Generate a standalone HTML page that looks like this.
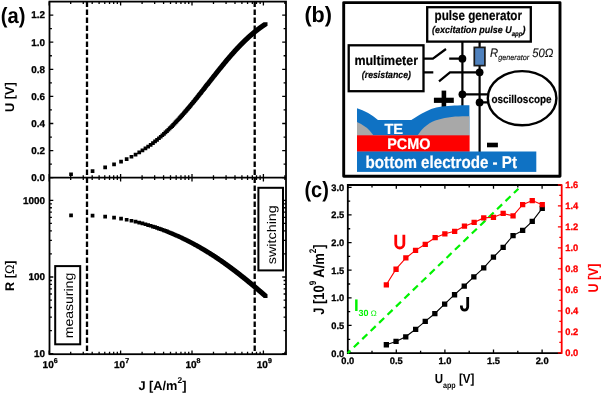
<!DOCTYPE html>
<html><head><meta charset="utf-8"><title>figure</title>
<style>
html,body{margin:0;padding:0;background:#fff;}
body{width:602px;height:393px;overflow:hidden;font-family:"Liberation Sans", sans-serif;}
svg{display:block;will-change:transform;}
svg text{text-rendering:geometricPrecision;}
</style></head>
<body>
<svg width="602" height="393" viewBox="0 0 602 393">
<rect width="602" height="393" fill="#fff"/>
<g stroke="#000" stroke-width="1.8" fill="none" shape-rendering="auto">
<rect x="49.5" y="1.6" width="236.5" height="352.59999999999997"/>
<line x1="49.5" y1="177.7" x2="286.0" y2="177.7"/>
<path d="M49.5 177.70h3.8M286.0 177.70h-3.8M49.5 164.15h2.4M286.0 164.15h-2.4M49.5 150.60h3.8M286.0 150.60h-3.8M49.5 137.05h2.4M286.0 137.05h-2.4M49.5 123.50h3.8M286.0 123.50h-3.8M49.5 109.95h2.4M286.0 109.95h-2.4M49.5 96.40h3.8M286.0 96.40h-3.8M49.5 82.85h2.4M286.0 82.85h-2.4M49.5 69.30h3.8M286.0 69.30h-3.8M49.5 55.75h2.4M286.0 55.75h-2.4M49.5 42.20h3.8M286.0 42.20h-3.8M49.5 28.65h2.4M286.0 28.65h-2.4M49.5 15.10h3.8M286.0 15.10h-3.8M49.20 1.6v3.8M49.20 173.89999999999998v7.6M49.20 354.2v-3.8M70.69 1.6v2.4M70.69 175.29999999999998v4.8M70.69 354.2v-2.4M83.27 1.6v2.4M83.27 175.29999999999998v4.8M83.27 354.2v-2.4M92.19 1.6v2.4M92.19 175.29999999999998v4.8M92.19 354.2v-2.4M99.11 1.6v2.4M99.11 175.29999999999998v4.8M99.11 354.2v-2.4M104.76 1.6v2.4M104.76 175.29999999999998v4.8M104.76 354.2v-2.4M109.54 1.6v2.4M109.54 175.29999999999998v4.8M109.54 354.2v-2.4M113.68 1.6v2.4M113.68 175.29999999999998v4.8M113.68 354.2v-2.4M117.33 1.6v2.4M117.33 175.29999999999998v4.8M117.33 354.2v-2.4M120.60 1.6v3.8M120.60 173.89999999999998v7.6M120.60 354.2v-3.8M142.09 1.6v2.4M142.09 175.29999999999998v4.8M142.09 354.2v-2.4M154.67 1.6v2.4M154.67 175.29999999999998v4.8M154.67 354.2v-2.4M163.59 1.6v2.4M163.59 175.29999999999998v4.8M163.59 354.2v-2.4M170.51 1.6v2.4M170.51 175.29999999999998v4.8M170.51 354.2v-2.4M176.16 1.6v2.4M176.16 175.29999999999998v4.8M176.16 354.2v-2.4M180.94 1.6v2.4M180.94 175.29999999999998v4.8M180.94 354.2v-2.4M185.08 1.6v2.4M185.08 175.29999999999998v4.8M185.08 354.2v-2.4M188.73 1.6v2.4M188.73 175.29999999999998v4.8M188.73 354.2v-2.4M192.00 1.6v3.8M192.00 173.89999999999998v7.6M192.00 354.2v-3.8M213.49 1.6v2.4M213.49 175.29999999999998v4.8M213.49 354.2v-2.4M226.07 1.6v2.4M226.07 175.29999999999998v4.8M226.07 354.2v-2.4M234.99 1.6v2.4M234.99 175.29999999999998v4.8M234.99 354.2v-2.4M241.91 1.6v2.4M241.91 175.29999999999998v4.8M241.91 354.2v-2.4M247.56 1.6v2.4M247.56 175.29999999999998v4.8M247.56 354.2v-2.4M252.34 1.6v2.4M252.34 175.29999999999998v4.8M252.34 354.2v-2.4M256.48 1.6v2.4M256.48 175.29999999999998v4.8M256.48 354.2v-2.4M260.13 1.6v2.4M260.13 175.29999999999998v4.8M260.13 354.2v-2.4M263.40 1.6v3.8M263.40 173.89999999999998v7.6M263.40 354.2v-3.8M284.89 1.6v2.4M284.89 175.29999999999998v4.8M284.89 354.2v-2.4M49.5 353.70h3.8M286.0 353.70h-3.8M49.5 330.61h2.4M286.0 330.61h-2.4M49.5 317.10h2.4M286.0 317.10h-2.4M49.5 307.52h2.4M286.0 307.52h-2.4M49.5 300.09h2.4M286.0 300.09h-2.4M49.5 294.02h2.4M286.0 294.02h-2.4M49.5 288.88h2.4M286.0 288.88h-2.4M49.5 284.43h2.4M286.0 284.43h-2.4M49.5 280.51h2.4M286.0 280.51h-2.4M49.5 277.00h3.8M286.0 277.00h-3.8M49.5 253.91h2.4M286.0 253.91h-2.4M49.5 240.40h2.4M286.0 240.40h-2.4M49.5 230.82h2.4M286.0 230.82h-2.4M49.5 223.39h2.4M286.0 223.39h-2.4M49.5 217.32h2.4M286.0 217.32h-2.4M49.5 212.18h2.4M286.0 212.18h-2.4M49.5 207.73h2.4M286.0 207.73h-2.4M49.5 203.81h2.4M286.0 203.81h-2.4M49.5 200.30h3.8M286.0 200.30h-3.8" stroke-width="1.3"/>
</g>
<line x1="87.0" y1="1.6" x2="87.0" y2="354.2" stroke="#000" stroke-width="2.3" stroke-dasharray="5.4 2.6"/>
<line x1="254.7" y1="1.6" x2="254.7" y2="354.2" stroke="#000" stroke-width="2.3" stroke-dasharray="5.4 2.6"/>
<path d="M69.2 172.4h3.7v3.7h-3.7zM69.2 213.6h3.7v3.7h-3.7zM90.7 169.2h3.7v3.7h-3.7zM90.7 213.7h3.7v3.7h-3.7zM103.3 165.6h3.7v3.7h-3.7zM103.3 214.7h3.7v3.7h-3.7zM112.2 162.5h3.7v3.7h-3.7zM112.2 215.8h3.7v3.7h-3.7zM119.2 159.8h3.7v3.7h-3.7zM119.2 216.8h3.7v3.7h-3.7zM124.8 157.2h3.7v3.7h-3.7zM124.8 217.9h3.7v3.7h-3.7zM129.6 154.9h3.7v3.7h-3.7zM129.6 218.9h3.7v3.7h-3.7zM133.7 152.7h3.7v3.7h-3.7zM133.7 219.8h3.7v3.7h-3.7zM137.4 150.6h3.7v3.7h-3.7zM137.4 220.7h3.7v3.7h-3.7zM140.6 148.5h3.7v3.7h-3.7zM140.6 221.6h3.7v3.7h-3.7zM143.6 146.6h3.7v3.7h-3.7zM143.6 222.4h3.7v3.7h-3.7zM146.3 144.8h3.7v3.7h-3.7zM146.3 223.2h3.7v3.7h-3.7zM148.8 143.0h3.7v3.7h-3.7zM148.8 223.9h3.7v3.7h-3.7zM151.1 141.2h3.7v3.7h-3.7zM151.1 224.7h3.7v3.7h-3.7zM153.2 139.6h3.7v3.7h-3.7zM153.2 225.3h3.7v3.7h-3.7zM155.2 138.0h3.7v3.7h-3.7zM155.2 226.0h3.7v3.7h-3.7zM157.1 136.4h3.7v3.7h-3.7zM157.1 226.7h3.7v3.7h-3.7zM158.9 134.9h3.7v3.7h-3.7zM158.9 227.3h3.7v3.7h-3.7zM160.5 133.4h3.7v3.7h-3.7zM160.5 227.9h3.7v3.7h-3.7zM162.1 132.0h3.7v3.7h-3.7zM162.1 228.5h3.7v3.7h-3.7zM163.6 130.6h3.7v3.7h-3.7zM163.6 229.1h3.7v3.7h-3.7zM165.1 129.2h3.7v3.7h-3.7zM165.1 229.6h3.7v3.7h-3.7zM166.5 127.9h3.7v3.7h-3.7zM166.5 230.2h3.7v3.7h-3.7zM167.8 126.6h3.7v3.7h-3.7zM167.8 230.7h3.7v3.7h-3.7zM169.1 125.4h3.7v3.7h-3.7zM169.1 231.2h3.7v3.7h-3.7zM170.3 124.2h3.7v3.7h-3.7zM170.3 231.7h3.7v3.7h-3.7zM171.4 123.0h3.7v3.7h-3.7zM171.4 232.2h3.7v3.7h-3.7zM172.6 121.8h3.7v3.7h-3.7zM172.6 232.7h3.7v3.7h-3.7zM173.7 120.6h3.7v3.7h-3.7zM173.7 233.2h3.7v3.7h-3.7zM174.7 119.5h3.7v3.7h-3.7zM174.7 233.7h3.7v3.7h-3.7zM175.7 118.4h3.7v3.7h-3.7zM175.7 234.1h3.7v3.7h-3.7zM176.7 117.4h3.7v3.7h-3.7zM176.7 234.6h3.7v3.7h-3.7zM177.7 116.3h3.7v3.7h-3.7zM177.7 235.0h3.7v3.7h-3.7zM178.6 115.3h3.7v3.7h-3.7zM178.6 235.4h3.7v3.7h-3.7zM179.5 114.3h3.7v3.7h-3.7zM179.5 235.8h3.7v3.7h-3.7zM180.4 113.3h3.7v3.7h-3.7zM180.4 236.3h3.7v3.7h-3.7zM181.2 112.4h3.7v3.7h-3.7zM181.2 236.7h3.7v3.7h-3.7zM182.0 111.4h3.7v3.7h-3.7zM182.0 237.1h3.7v3.7h-3.7zM182.8 110.5h3.7v3.7h-3.7zM182.8 237.5h3.7v3.7h-3.7zM183.6 109.6h3.7v3.7h-3.7zM183.6 237.8h3.7v3.7h-3.7zM184.4 108.7h3.7v3.7h-3.7zM184.4 238.2h3.7v3.7h-3.7zM185.1 107.8h3.7v3.7h-3.7zM185.1 238.6h3.7v3.7h-3.7zM185.9 107.0h3.7v3.7h-3.7zM185.9 239.0h3.7v3.7h-3.7zM186.6 106.1h3.7v3.7h-3.7zM186.6 239.3h3.7v3.7h-3.7zM187.3 105.3h3.7v3.7h-3.7zM187.3 239.7h3.7v3.7h-3.7zM188.0 104.5h3.7v3.7h-3.7zM188.0 240.0h3.7v3.7h-3.7zM188.6 103.7h3.7v3.7h-3.7zM188.6 240.4h3.7v3.7h-3.7zM189.3 102.9h3.7v3.7h-3.7zM189.3 240.7h3.7v3.7h-3.7zM189.9 102.1h3.7v3.7h-3.7zM189.9 241.1h3.7v3.7h-3.7zM190.6 101.4h3.7v3.7h-3.7zM190.6 241.4h3.7v3.7h-3.7zM191.2 100.6h3.7v3.7h-3.7zM191.2 241.7h3.7v3.7h-3.7zM191.8 99.9h3.7v3.7h-3.7zM191.8 242.0h3.7v3.7h-3.7zM192.4 99.2h3.7v3.7h-3.7zM192.4 242.4h3.7v3.7h-3.7zM192.9 98.4h3.7v3.7h-3.7zM192.9 242.7h3.7v3.7h-3.7zM193.5 97.7h3.7v3.7h-3.7zM193.5 243.0h3.7v3.7h-3.7zM194.1 97.1h3.7v3.7h-3.7zM194.1 243.3h3.7v3.7h-3.7zM194.6 96.4h3.7v3.7h-3.7zM194.6 243.6h3.7v3.7h-3.7zM195.2 95.7h3.7v3.7h-3.7zM195.2 243.9h3.7v3.7h-3.7zM195.7 95.0h3.7v3.7h-3.7zM195.7 244.2h3.7v3.7h-3.7zM196.2 94.4h3.7v3.7h-3.7zM196.2 244.5h3.7v3.7h-3.7zM196.7 93.8h3.7v3.7h-3.7zM196.7 244.8h3.7v3.7h-3.7zM197.2 93.1h3.7v3.7h-3.7zM197.2 245.1h3.7v3.7h-3.7zM197.7 92.5h3.7v3.7h-3.7zM197.7 245.4h3.7v3.7h-3.7zM198.2 91.9h3.7v3.7h-3.7zM198.2 245.6h3.7v3.7h-3.7zM198.7 91.3h3.7v3.7h-3.7zM198.7 245.9h3.7v3.7h-3.7zM199.2 90.7h3.7v3.7h-3.7zM199.2 246.2h3.7v3.7h-3.7zM199.6 90.1h3.7v3.7h-3.7zM199.6 246.5h3.7v3.7h-3.7zM200.1 89.5h3.7v3.7h-3.7zM200.1 246.7h3.7v3.7h-3.7zM200.5 88.9h3.7v3.7h-3.7zM200.5 247.0h3.7v3.7h-3.7zM201.0 88.4h3.7v3.7h-3.7zM201.0 247.3h3.7v3.7h-3.7zM201.4 87.8h3.7v3.7h-3.7zM201.4 247.5h3.7v3.7h-3.7zM201.9 87.3h3.7v3.7h-3.7zM201.9 247.8h3.7v3.7h-3.7zM202.3 86.7h3.7v3.7h-3.7zM202.3 248.0h3.7v3.7h-3.7zM202.7 86.2h3.7v3.7h-3.7zM202.7 248.3h3.7v3.7h-3.7zM203.1 85.7h3.7v3.7h-3.7zM203.1 248.5h3.7v3.7h-3.7zM203.5 85.1h3.7v3.7h-3.7zM203.5 248.8h3.7v3.7h-3.7zM203.9 84.6h3.7v3.7h-3.7zM203.9 249.0h3.7v3.7h-3.7zM204.3 84.1h3.7v3.7h-3.7zM204.3 249.3h3.7v3.7h-3.7zM204.7 83.6h3.7v3.7h-3.7zM204.7 249.5h3.7v3.7h-3.7zM205.1 83.1h3.7v3.7h-3.7zM205.1 249.7h3.7v3.7h-3.7zM205.5 82.6h3.7v3.7h-3.7zM205.5 250.0h3.7v3.7h-3.7zM205.9 82.2h3.7v3.7h-3.7zM205.9 250.2h3.7v3.7h-3.7zM206.3 81.7h3.7v3.7h-3.7zM206.3 250.5h3.7v3.7h-3.7zM206.6 81.2h3.7v3.7h-3.7zM206.6 250.7h3.7v3.7h-3.7zM207.0 80.7h3.7v3.7h-3.7zM207.0 250.9h3.7v3.7h-3.7zM207.4 80.3h3.7v3.7h-3.7zM207.4 251.1h3.7v3.7h-3.7zM207.7 79.8h3.7v3.7h-3.7zM207.7 251.4h3.7v3.7h-3.7zM208.1 79.4h3.7v3.7h-3.7zM208.1 251.6h3.7v3.7h-3.7zM208.4 78.9h3.7v3.7h-3.7zM208.4 251.8h3.7v3.7h-3.7zM208.8 78.5h3.7v3.7h-3.7zM208.8 252.0h3.7v3.7h-3.7zM209.1 78.0h3.7v3.7h-3.7zM209.1 252.2h3.7v3.7h-3.7zM209.5 77.6h3.7v3.7h-3.7zM209.5 252.5h3.7v3.7h-3.7zM209.8 77.2h3.7v3.7h-3.7zM209.8 252.7h3.7v3.7h-3.7zM210.1 76.8h3.7v3.7h-3.7zM210.1 252.9h3.7v3.7h-3.7zM210.5 76.4h3.7v3.7h-3.7zM210.5 253.1h3.7v3.7h-3.7zM210.8 75.9h3.7v3.7h-3.7zM210.8 253.3h3.7v3.7h-3.7zM211.1 75.5h3.7v3.7h-3.7zM211.1 253.5h3.7v3.7h-3.7zM211.4 75.1h3.7v3.7h-3.7zM211.4 253.7h3.7v3.7h-3.7zM211.7 74.7h3.7v3.7h-3.7zM211.7 253.9h3.7v3.7h-3.7zM212.0 74.3h3.7v3.7h-3.7zM212.0 254.1h3.7v3.7h-3.7zM212.4 73.9h3.7v3.7h-3.7zM212.4 254.3h3.7v3.7h-3.7zM212.7 73.6h3.7v3.7h-3.7zM212.7 254.5h3.7v3.7h-3.7zM213.0 73.2h3.7v3.7h-3.7zM213.0 254.7h3.7v3.7h-3.7zM213.3 72.8h3.7v3.7h-3.7zM213.3 254.9h3.7v3.7h-3.7zM213.6 72.4h3.7v3.7h-3.7zM213.6 255.1h3.7v3.7h-3.7zM213.9 72.1h3.7v3.7h-3.7zM213.9 255.3h3.7v3.7h-3.7zM214.1 71.7h3.7v3.7h-3.7zM214.1 255.5h3.7v3.7h-3.7zM214.4 71.3h3.7v3.7h-3.7zM214.4 255.7h3.7v3.7h-3.7zM214.7 71.0h3.7v3.7h-3.7zM214.7 255.9h3.7v3.7h-3.7zM215.0 70.6h3.7v3.7h-3.7zM215.0 256.1h3.7v3.7h-3.7zM215.3 70.3h3.7v3.7h-3.7zM215.3 256.3h3.7v3.7h-3.7zM215.6 69.9h3.7v3.7h-3.7zM215.6 256.5h3.7v3.7h-3.7zM215.8 69.6h3.7v3.7h-3.7zM215.8 256.6h3.7v3.7h-3.7zM216.1 69.2h3.7v3.7h-3.7zM216.1 256.8h3.7v3.7h-3.7zM216.4 68.9h3.7v3.7h-3.7zM216.4 257.0h3.7v3.7h-3.7zM216.6 68.6h3.7v3.7h-3.7zM216.6 257.2h3.7v3.7h-3.7zM216.9 68.2h3.7v3.7h-3.7zM216.9 257.4h3.7v3.7h-3.7zM217.2 67.9h3.7v3.7h-3.7zM217.2 257.6h3.7v3.7h-3.7zM217.4 67.6h3.7v3.7h-3.7zM217.4 257.7h3.7v3.7h-3.7zM217.7 67.3h3.7v3.7h-3.7zM217.7 257.9h3.7v3.7h-3.7zM218.0 66.9h3.7v3.7h-3.7zM218.0 258.1h3.7v3.7h-3.7zM218.2 66.6h3.7v3.7h-3.7zM218.2 258.3h3.7v3.7h-3.7zM218.5 66.3h3.7v3.7h-3.7zM218.5 258.4h3.7v3.7h-3.7zM218.7 66.0h3.7v3.7h-3.7zM218.7 258.6h3.7v3.7h-3.7zM219.0 65.7h3.7v3.7h-3.7zM219.0 258.8h3.7v3.7h-3.7zM219.2 65.4h3.7v3.7h-3.7zM219.2 258.9h3.7v3.7h-3.7zM219.5 65.1h3.7v3.7h-3.7zM219.5 259.1h3.7v3.7h-3.7zM219.7 64.8h3.7v3.7h-3.7zM219.7 259.3h3.7v3.7h-3.7zM219.9 64.5h3.7v3.7h-3.7zM219.9 259.5h3.7v3.7h-3.7zM220.2 64.2h3.7v3.7h-3.7zM220.2 259.6h3.7v3.7h-3.7zM220.4 63.9h3.7v3.7h-3.7zM220.4 259.8h3.7v3.7h-3.7zM220.7 63.6h3.7v3.7h-3.7zM220.7 260.0h3.7v3.7h-3.7zM220.9 63.3h3.7v3.7h-3.7zM220.9 260.1h3.7v3.7h-3.7zM221.1 63.0h3.7v3.7h-3.7zM221.1 260.3h3.7v3.7h-3.7zM221.3 62.8h3.7v3.7h-3.7zM221.3 260.4h3.7v3.7h-3.7zM221.6 62.5h3.7v3.7h-3.7zM221.6 260.6h3.7v3.7h-3.7zM221.8 62.2h3.7v3.7h-3.7zM221.8 260.8h3.7v3.7h-3.7zM222.0 61.9h3.7v3.7h-3.7zM222.0 260.9h3.7v3.7h-3.7zM222.3 61.7h3.7v3.7h-3.7zM222.3 261.1h3.7v3.7h-3.7zM222.5 61.4h3.7v3.7h-3.7zM222.5 261.2h3.7v3.7h-3.7zM222.7 61.1h3.7v3.7h-3.7zM222.7 261.4h3.7v3.7h-3.7zM222.9 60.9h3.7v3.7h-3.7zM222.9 261.5h3.7v3.7h-3.7zM223.1 60.6h3.7v3.7h-3.7zM223.1 261.7h3.7v3.7h-3.7zM223.4 60.3h3.7v3.7h-3.7zM223.4 261.9h3.7v3.7h-3.7zM223.6 60.1h3.7v3.7h-3.7zM223.6 262.0h3.7v3.7h-3.7zM223.8 59.8h3.7v3.7h-3.7zM223.8 262.2h3.7v3.7h-3.7zM224.0 59.6h3.7v3.7h-3.7zM224.0 262.3h3.7v3.7h-3.7zM224.2 59.3h3.7v3.7h-3.7zM224.2 262.5h3.7v3.7h-3.7zM224.4 59.1h3.7v3.7h-3.7zM224.4 262.6h3.7v3.7h-3.7zM224.6 58.8h3.7v3.7h-3.7zM224.6 262.8h3.7v3.7h-3.7zM224.8 58.6h3.7v3.7h-3.7zM224.8 262.9h3.7v3.7h-3.7zM225.0 58.3h3.7v3.7h-3.7zM225.0 263.1h3.7v3.7h-3.7zM225.2 58.1h3.7v3.7h-3.7zM225.2 263.2h3.7v3.7h-3.7zM225.4 57.9h3.7v3.7h-3.7zM225.4 263.4h3.7v3.7h-3.7zM225.6 57.6h3.7v3.7h-3.7zM225.6 263.5h3.7v3.7h-3.7zM225.8 57.4h3.7v3.7h-3.7zM225.8 263.6h3.7v3.7h-3.7zM226.0 57.1h3.7v3.7h-3.7zM226.0 263.8h3.7v3.7h-3.7zM226.2 56.9h3.7v3.7h-3.7zM226.2 263.9h3.7v3.7h-3.7zM226.4 56.7h3.7v3.7h-3.7zM226.4 264.1h3.7v3.7h-3.7zM226.6 56.5h3.7v3.7h-3.7zM226.6 264.2h3.7v3.7h-3.7zM226.8 56.2h3.7v3.7h-3.7zM226.8 264.4h3.7v3.7h-3.7zM227.0 56.0h3.7v3.7h-3.7zM227.0 264.5h3.7v3.7h-3.7zM227.2 55.8h3.7v3.7h-3.7zM227.2 264.6h3.7v3.7h-3.7zM227.4 55.6h3.7v3.7h-3.7zM227.4 264.8h3.7v3.7h-3.7zM227.6 55.3h3.7v3.7h-3.7zM227.6 264.9h3.7v3.7h-3.7zM227.8 55.1h3.7v3.7h-3.7zM227.8 265.1h3.7v3.7h-3.7zM227.9 54.9h3.7v3.7h-3.7zM227.9 265.2h3.7v3.7h-3.7zM228.1 54.7h3.7v3.7h-3.7zM228.1 265.3h3.7v3.7h-3.7zM228.3 54.5h3.7v3.7h-3.7zM228.3 265.5h3.7v3.7h-3.7zM228.5 54.3h3.7v3.7h-3.7zM228.5 265.6h3.7v3.7h-3.7zM228.7 54.1h3.7v3.7h-3.7zM228.7 265.7h3.7v3.7h-3.7zM228.9 53.9h3.7v3.7h-3.7zM228.9 265.9h3.7v3.7h-3.7zM229.0 53.6h3.7v3.7h-3.7zM229.0 266.0h3.7v3.7h-3.7zM229.2 53.4h3.7v3.7h-3.7zM229.2 266.1h3.7v3.7h-3.7zM229.4 53.2h3.7v3.7h-3.7zM229.4 266.3h3.7v3.7h-3.7zM229.6 53.0h3.7v3.7h-3.7zM229.6 266.4h3.7v3.7h-3.7zM229.7 52.8h3.7v3.7h-3.7zM229.7 266.5h3.7v3.7h-3.7zM229.9 52.6h3.7v3.7h-3.7zM229.9 266.7h3.7v3.7h-3.7zM230.1 52.4h3.7v3.7h-3.7zM230.1 266.8h3.7v3.7h-3.7zM230.3 52.2h3.7v3.7h-3.7zM230.3 266.9h3.7v3.7h-3.7zM230.4 52.0h3.7v3.7h-3.7zM230.4 267.0h3.7v3.7h-3.7zM230.6 51.9h3.7v3.7h-3.7zM230.6 267.2h3.7v3.7h-3.7zM230.8 51.7h3.7v3.7h-3.7zM230.8 267.3h3.7v3.7h-3.7zM231.0 51.5h3.7v3.7h-3.7zM231.0 267.4h3.7v3.7h-3.7zM231.1 51.3h3.7v3.7h-3.7zM231.1 267.5h3.7v3.7h-3.7zM231.3 51.1h3.7v3.7h-3.7zM231.3 267.7h3.7v3.7h-3.7zM231.5 50.9h3.7v3.7h-3.7zM231.5 267.8h3.7v3.7h-3.7zM231.6 50.7h3.7v3.7h-3.7zM231.6 267.9h3.7v3.7h-3.7zM231.8 50.5h3.7v3.7h-3.7zM231.8 268.0h3.7v3.7h-3.7zM231.9 50.4h3.7v3.7h-3.7zM231.9 268.2h3.7v3.7h-3.7zM232.1 50.2h3.7v3.7h-3.7zM232.1 268.3h3.7v3.7h-3.7zM232.3 50.0h3.7v3.7h-3.7zM232.3 268.4h3.7v3.7h-3.7zM232.4 49.8h3.7v3.7h-3.7zM232.4 268.5h3.7v3.7h-3.7zM232.6 49.6h3.7v3.7h-3.7zM232.6 268.7h3.7v3.7h-3.7zM232.8 49.5h3.7v3.7h-3.7zM232.8 268.8h3.7v3.7h-3.7zM232.9 49.3h3.7v3.7h-3.7zM232.9 268.9h3.7v3.7h-3.7zM233.1 49.1h3.7v3.7h-3.7zM233.1 269.0h3.7v3.7h-3.7zM233.2 48.9h3.7v3.7h-3.7zM233.2 269.1h3.7v3.7h-3.7zM233.4 48.8h3.7v3.7h-3.7zM233.4 269.3h3.7v3.7h-3.7zM233.5 48.6h3.7v3.7h-3.7zM233.5 269.4h3.7v3.7h-3.7zM233.7 48.4h3.7v3.7h-3.7zM233.7 269.5h3.7v3.7h-3.7zM233.8 48.3h3.7v3.7h-3.7zM233.8 269.6h3.7v3.7h-3.7zM234.0 48.1h3.7v3.7h-3.7zM234.0 269.7h3.7v3.7h-3.7zM234.2 47.9h3.7v3.7h-3.7zM234.2 269.9h3.7v3.7h-3.7zM234.3 47.8h3.7v3.7h-3.7zM234.3 270.0h3.7v3.7h-3.7zM234.5 47.6h3.7v3.7h-3.7zM234.5 270.1h3.7v3.7h-3.7zM234.6 47.4h3.7v3.7h-3.7zM234.6 270.2h3.7v3.7h-3.7zM234.8 47.3h3.7v3.7h-3.7zM234.8 270.3h3.7v3.7h-3.7zM234.9 47.1h3.7v3.7h-3.7zM234.9 270.4h3.7v3.7h-3.7zM235.0 47.0h3.7v3.7h-3.7zM235.0 270.5h3.7v3.7h-3.7zM235.2 46.8h3.7v3.7h-3.7zM235.2 270.7h3.7v3.7h-3.7zM235.3 46.6h3.7v3.7h-3.7zM235.3 270.8h3.7v3.7h-3.7zM235.5 46.5h3.7v3.7h-3.7zM235.5 270.9h3.7v3.7h-3.7zM235.6 46.3h3.7v3.7h-3.7zM235.6 271.0h3.7v3.7h-3.7zM235.8 46.2h3.7v3.7h-3.7zM235.8 271.1h3.7v3.7h-3.7zM235.9 46.0h3.7v3.7h-3.7zM235.9 271.2h3.7v3.7h-3.7zM236.1 45.9h3.7v3.7h-3.7zM236.1 271.3h3.7v3.7h-3.7zM236.2 45.7h3.7v3.7h-3.7zM236.2 271.4h3.7v3.7h-3.7zM236.4 45.6h3.7v3.7h-3.7zM236.4 271.5h3.7v3.7h-3.7zM236.5 45.4h3.7v3.7h-3.7zM236.5 271.7h3.7v3.7h-3.7zM236.6 45.3h3.7v3.7h-3.7zM236.6 271.8h3.7v3.7h-3.7zM236.8 45.1h3.7v3.7h-3.7zM236.8 271.9h3.7v3.7h-3.7zM236.9 45.0h3.7v3.7h-3.7zM236.9 272.0h3.7v3.7h-3.7zM237.1 44.8h3.7v3.7h-3.7zM237.1 272.1h3.7v3.7h-3.7zM237.2 44.7h3.7v3.7h-3.7zM237.2 272.2h3.7v3.7h-3.7zM237.3 44.5h3.7v3.7h-3.7zM237.3 272.3h3.7v3.7h-3.7zM237.5 44.4h3.7v3.7h-3.7zM237.5 272.4h3.7v3.7h-3.7zM237.6 44.2h3.7v3.7h-3.7zM237.6 272.5h3.7v3.7h-3.7zM237.7 44.1h3.7v3.7h-3.7zM237.7 272.6h3.7v3.7h-3.7zM237.9 44.0h3.7v3.7h-3.7zM237.9 272.7h3.7v3.7h-3.7zM238.0 43.8h3.7v3.7h-3.7zM238.0 272.8h3.7v3.7h-3.7zM238.1 43.7h3.7v3.7h-3.7zM238.1 272.9h3.7v3.7h-3.7zM238.3 43.6h3.7v3.7h-3.7zM238.3 273.0h3.7v3.7h-3.7zM238.4 43.4h3.7v3.7h-3.7zM238.4 273.2h3.7v3.7h-3.7zM238.5 43.3h3.7v3.7h-3.7zM238.5 273.3h3.7v3.7h-3.7zM238.7 43.1h3.7v3.7h-3.7zM238.7 273.4h3.7v3.7h-3.7zM238.8 43.0h3.7v3.7h-3.7zM238.8 273.5h3.7v3.7h-3.7zM238.9 42.9h3.7v3.7h-3.7zM238.9 273.6h3.7v3.7h-3.7zM239.1 42.7h3.7v3.7h-3.7zM239.1 273.7h3.7v3.7h-3.7zM239.2 42.6h3.7v3.7h-3.7zM239.2 273.8h3.7v3.7h-3.7zM239.3 42.5h3.7v3.7h-3.7zM239.3 273.9h3.7v3.7h-3.7zM239.4 42.3h3.7v3.7h-3.7zM239.4 274.0h3.7v3.7h-3.7zM239.6 42.2h3.7v3.7h-3.7zM239.6 274.1h3.7v3.7h-3.7zM239.7 42.1h3.7v3.7h-3.7zM239.7 274.2h3.7v3.7h-3.7zM239.8 42.0h3.7v3.7h-3.7zM239.8 274.3h3.7v3.7h-3.7zM240.0 41.8h3.7v3.7h-3.7zM240.0 274.4h3.7v3.7h-3.7zM240.1 41.7h3.7v3.7h-3.7zM240.1 274.5h3.7v3.7h-3.7zM240.2 41.6h3.7v3.7h-3.7zM240.2 274.6h3.7v3.7h-3.7zM240.3 41.5h3.7v3.7h-3.7zM240.3 274.7h3.7v3.7h-3.7zM240.5 41.3h3.7v3.7h-3.7zM240.5 274.8h3.7v3.7h-3.7zM240.6 41.2h3.7v3.7h-3.7zM240.6 274.9h3.7v3.7h-3.7zM240.7 41.1h3.7v3.7h-3.7zM240.7 275.0h3.7v3.7h-3.7zM240.8 41.0h3.7v3.7h-3.7zM240.8 275.1h3.7v3.7h-3.7zM240.9 40.8h3.7v3.7h-3.7zM240.9 275.2h3.7v3.7h-3.7zM241.1 40.7h3.7v3.7h-3.7zM241.1 275.3h3.7v3.7h-3.7zM241.2 40.6h3.7v3.7h-3.7zM241.2 275.4h3.7v3.7h-3.7zM241.3 40.5h3.7v3.7h-3.7zM241.3 275.5h3.7v3.7h-3.7zM241.4 40.4h3.7v3.7h-3.7zM241.4 275.6h3.7v3.7h-3.7zM241.6 40.2h3.7v3.7h-3.7zM241.6 275.6h3.7v3.7h-3.7zM241.7 40.1h3.7v3.7h-3.7zM241.7 275.7h3.7v3.7h-3.7zM241.8 40.0h3.7v3.7h-3.7zM241.8 275.8h3.7v3.7h-3.7zM241.9 39.9h3.7v3.7h-3.7zM241.9 275.9h3.7v3.7h-3.7zM242.0 39.8h3.7v3.7h-3.7zM242.0 276.0h3.7v3.7h-3.7zM242.1 39.7h3.7v3.7h-3.7zM242.1 276.1h3.7v3.7h-3.7zM242.3 39.5h3.7v3.7h-3.7zM242.3 276.2h3.7v3.7h-3.7zM242.4 39.4h3.7v3.7h-3.7zM242.4 276.3h3.7v3.7h-3.7zM242.5 39.3h3.7v3.7h-3.7zM242.5 276.4h3.7v3.7h-3.7zM242.6 39.2h3.7v3.7h-3.7zM242.6 276.5h3.7v3.7h-3.7zM242.7 39.1h3.7v3.7h-3.7zM242.7 276.6h3.7v3.7h-3.7zM242.8 39.0h3.7v3.7h-3.7zM242.8 276.7h3.7v3.7h-3.7zM243.0 38.9h3.7v3.7h-3.7zM243.0 276.8h3.7v3.7h-3.7zM243.1 38.8h3.7v3.7h-3.7zM243.1 276.9h3.7v3.7h-3.7zM243.2 38.6h3.7v3.7h-3.7zM243.2 277.0h3.7v3.7h-3.7zM243.3 38.5h3.7v3.7h-3.7zM243.3 277.0h3.7v3.7h-3.7zM243.4 38.4h3.7v3.7h-3.7zM243.4 277.1h3.7v3.7h-3.7zM243.5 38.3h3.7v3.7h-3.7zM243.5 277.2h3.7v3.7h-3.7zM243.6 38.2h3.7v3.7h-3.7zM243.6 277.3h3.7v3.7h-3.7zM243.7 38.1h3.7v3.7h-3.7zM243.7 277.4h3.7v3.7h-3.7zM243.9 38.0h3.7v3.7h-3.7zM243.9 277.5h3.7v3.7h-3.7zM244.0 37.9h3.7v3.7h-3.7zM244.0 277.6h3.7v3.7h-3.7zM244.1 37.8h3.7v3.7h-3.7zM244.1 277.7h3.7v3.7h-3.7zM244.2 37.7h3.7v3.7h-3.7zM244.2 277.8h3.7v3.7h-3.7zM244.3 37.6h3.7v3.7h-3.7zM244.3 277.9h3.7v3.7h-3.7zM244.4 37.5h3.7v3.7h-3.7zM244.4 277.9h3.7v3.7h-3.7zM244.5 37.4h3.7v3.7h-3.7zM244.5 278.0h3.7v3.7h-3.7zM244.6 37.3h3.7v3.7h-3.7zM244.6 278.1h3.7v3.7h-3.7zM244.7 37.2h3.7v3.7h-3.7zM244.7 278.2h3.7v3.7h-3.7zM244.8 37.1h3.7v3.7h-3.7zM244.8 278.3h3.7v3.7h-3.7zM245.0 37.0h3.7v3.7h-3.7zM245.0 278.4h3.7v3.7h-3.7zM245.1 36.9h3.7v3.7h-3.7zM245.1 278.5h3.7v3.7h-3.7zM245.2 36.8h3.7v3.7h-3.7zM245.2 278.6h3.7v3.7h-3.7zM245.3 36.7h3.7v3.7h-3.7zM245.3 278.6h3.7v3.7h-3.7zM245.4 36.6h3.7v3.7h-3.7zM245.4 278.7h3.7v3.7h-3.7zM245.5 36.5h3.7v3.7h-3.7zM245.5 278.8h3.7v3.7h-3.7zM245.6 36.4h3.7v3.7h-3.7zM245.6 278.9h3.7v3.7h-3.7zM245.7 36.3h3.7v3.7h-3.7zM245.7 279.0h3.7v3.7h-3.7zM245.8 36.2h3.7v3.7h-3.7zM245.8 279.1h3.7v3.7h-3.7zM245.9 36.1h3.7v3.7h-3.7zM245.9 279.2h3.7v3.7h-3.7zM246.0 36.0h3.7v3.7h-3.7zM246.0 279.2h3.7v3.7h-3.7zM246.1 35.9h3.7v3.7h-3.7zM246.1 279.3h3.7v3.7h-3.7zM246.2 35.8h3.7v3.7h-3.7zM246.2 279.4h3.7v3.7h-3.7zM246.3 35.7h3.7v3.7h-3.7zM246.3 279.5h3.7v3.7h-3.7zM246.4 35.6h3.7v3.7h-3.7zM246.4 279.6h3.7v3.7h-3.7zM246.5 35.5h3.7v3.7h-3.7zM246.5 279.7h3.7v3.7h-3.7zM246.6 35.4h3.7v3.7h-3.7zM246.6 279.7h3.7v3.7h-3.7zM246.7 35.3h3.7v3.7h-3.7zM246.7 279.8h3.7v3.7h-3.7zM246.8 35.3h3.7v3.7h-3.7zM246.8 279.9h3.7v3.7h-3.7zM246.9 35.2h3.7v3.7h-3.7zM246.9 280.0h3.7v3.7h-3.7zM247.0 35.1h3.7v3.7h-3.7zM247.0 280.1h3.7v3.7h-3.7zM247.1 35.0h3.7v3.7h-3.7zM247.1 280.2h3.7v3.7h-3.7zM247.2 34.9h3.7v3.7h-3.7zM247.2 280.2h3.7v3.7h-3.7zM247.3 34.8h3.7v3.7h-3.7zM247.3 280.3h3.7v3.7h-3.7zM247.4 34.7h3.7v3.7h-3.7zM247.4 280.4h3.7v3.7h-3.7zM247.5 34.6h3.7v3.7h-3.7zM247.5 280.5h3.7v3.7h-3.7zM247.6 34.5h3.7v3.7h-3.7zM247.6 280.6h3.7v3.7h-3.7zM247.7 34.4h3.7v3.7h-3.7zM247.7 280.7h3.7v3.7h-3.7zM247.8 34.4h3.7v3.7h-3.7zM247.8 280.7h3.7v3.7h-3.7zM247.9 34.3h3.7v3.7h-3.7zM247.9 280.8h3.7v3.7h-3.7zM248.0 34.2h3.7v3.7h-3.7zM248.0 280.9h3.7v3.7h-3.7zM248.1 34.1h3.7v3.7h-3.7zM248.1 281.0h3.7v3.7h-3.7zM248.2 34.0h3.7v3.7h-3.7zM248.2 281.1h3.7v3.7h-3.7zM248.3 33.9h3.7v3.7h-3.7zM248.3 281.1h3.7v3.7h-3.7zM248.4 33.8h3.7v3.7h-3.7zM248.4 281.2h3.7v3.7h-3.7zM248.5 33.8h3.7v3.7h-3.7zM248.5 281.3h3.7v3.7h-3.7zM248.6 33.7h3.7v3.7h-3.7zM248.6 281.4h3.7v3.7h-3.7zM248.7 33.6h3.7v3.7h-3.7zM248.7 281.4h3.7v3.7h-3.7zM248.8 33.5h3.7v3.7h-3.7zM248.8 281.5h3.7v3.7h-3.7zM248.9 33.4h3.7v3.7h-3.7zM248.9 281.6h3.7v3.7h-3.7zM249.0 33.3h3.7v3.7h-3.7zM249.0 281.7h3.7v3.7h-3.7zM249.1 33.3h3.7v3.7h-3.7zM249.1 281.8h3.7v3.7h-3.7zM249.2 33.2h3.7v3.7h-3.7zM249.2 281.8h3.7v3.7h-3.7zM249.3 33.1h3.7v3.7h-3.7zM249.3 281.9h3.7v3.7h-3.7zM249.3 33.0h3.7v3.7h-3.7zM249.3 282.0h3.7v3.7h-3.7zM249.4 32.9h3.7v3.7h-3.7zM249.4 282.1h3.7v3.7h-3.7zM249.5 32.9h3.7v3.7h-3.7zM249.5 282.1h3.7v3.7h-3.7zM249.6 32.8h3.7v3.7h-3.7zM249.6 282.2h3.7v3.7h-3.7zM249.7 32.7h3.7v3.7h-3.7zM249.7 282.3h3.7v3.7h-3.7zM249.8 32.6h3.7v3.7h-3.7zM249.8 282.4h3.7v3.7h-3.7zM249.9 32.5h3.7v3.7h-3.7zM249.9 282.5h3.7v3.7h-3.7zM250.0 32.5h3.7v3.7h-3.7zM250.0 282.5h3.7v3.7h-3.7zM250.1 32.4h3.7v3.7h-3.7zM250.1 282.6h3.7v3.7h-3.7zM250.2 32.3h3.7v3.7h-3.7zM250.2 282.7h3.7v3.7h-3.7zM250.3 32.2h3.7v3.7h-3.7zM250.3 282.8h3.7v3.7h-3.7zM250.4 32.2h3.7v3.7h-3.7zM250.4 282.8h3.7v3.7h-3.7zM250.4 32.1h3.7v3.7h-3.7zM250.4 282.9h3.7v3.7h-3.7zM250.5 32.0h3.7v3.7h-3.7zM250.5 283.0h3.7v3.7h-3.7zM250.6 31.9h3.7v3.7h-3.7zM250.6 283.1h3.7v3.7h-3.7zM250.7 31.9h3.7v3.7h-3.7zM250.7 283.1h3.7v3.7h-3.7zM250.8 31.8h3.7v3.7h-3.7zM250.8 283.2h3.7v3.7h-3.7zM250.9 31.7h3.7v3.7h-3.7zM250.9 283.3h3.7v3.7h-3.7zM251.0 31.6h3.7v3.7h-3.7zM251.0 283.4h3.7v3.7h-3.7zM251.1 31.6h3.7v3.7h-3.7zM251.1 283.4h3.7v3.7h-3.7zM251.2 31.5h3.7v3.7h-3.7zM251.2 283.5h3.7v3.7h-3.7zM251.2 31.4h3.7v3.7h-3.7zM251.2 283.6h3.7v3.7h-3.7zM251.3 31.3h3.7v3.7h-3.7zM251.3 283.6h3.7v3.7h-3.7zM251.4 31.3h3.7v3.7h-3.7zM251.4 283.7h3.7v3.7h-3.7zM251.5 31.2h3.7v3.7h-3.7zM251.5 283.8h3.7v3.7h-3.7zM251.6 31.1h3.7v3.7h-3.7zM251.6 283.9h3.7v3.7h-3.7zM251.7 31.0h3.7v3.7h-3.7zM251.7 283.9h3.7v3.7h-3.7zM251.8 31.0h3.7v3.7h-3.7zM251.8 284.0h3.7v3.7h-3.7zM251.8 30.9h3.7v3.7h-3.7zM251.8 284.1h3.7v3.7h-3.7zM251.9 30.8h3.7v3.7h-3.7zM251.9 284.2h3.7v3.7h-3.7zM252.0 30.8h3.7v3.7h-3.7zM252.0 284.2h3.7v3.7h-3.7zM252.1 30.7h3.7v3.7h-3.7zM252.1 284.3h3.7v3.7h-3.7zM252.2 30.6h3.7v3.7h-3.7zM252.2 284.4h3.7v3.7h-3.7zM252.3 30.6h3.7v3.7h-3.7zM252.3 284.4h3.7v3.7h-3.7zM252.4 30.5h3.7v3.7h-3.7zM252.4 284.5h3.7v3.7h-3.7zM252.4 30.4h3.7v3.7h-3.7zM252.4 284.6h3.7v3.7h-3.7zM252.5 30.3h3.7v3.7h-3.7zM252.5 284.7h3.7v3.7h-3.7zM252.6 30.3h3.7v3.7h-3.7zM252.6 284.7h3.7v3.7h-3.7zM252.7 30.2h3.7v3.7h-3.7zM252.7 284.8h3.7v3.7h-3.7zM252.8 30.1h3.7v3.7h-3.7zM252.8 284.9h3.7v3.7h-3.7zM252.9 30.1h3.7v3.7h-3.7zM252.9 284.9h3.7v3.7h-3.7zM252.9 30.0h3.7v3.7h-3.7zM252.9 285.0h3.7v3.7h-3.7zM253.0 29.9h3.7v3.7h-3.7zM253.0 285.1h3.7v3.7h-3.7zM253.1 29.9h3.7v3.7h-3.7zM253.1 285.1h3.7v3.7h-3.7zM253.2 29.8h3.7v3.7h-3.7zM253.2 285.2h3.7v3.7h-3.7zM253.3 29.7h3.7v3.7h-3.7zM253.3 285.3h3.7v3.7h-3.7zM253.4 29.7h3.7v3.7h-3.7zM253.4 285.4h3.7v3.7h-3.7zM253.4 29.6h3.7v3.7h-3.7zM253.4 285.4h3.7v3.7h-3.7zM253.5 29.5h3.7v3.7h-3.7zM253.5 285.5h3.7v3.7h-3.7zM253.6 29.5h3.7v3.7h-3.7zM253.6 285.6h3.7v3.7h-3.7zM253.7 29.4h3.7v3.7h-3.7zM253.7 285.6h3.7v3.7h-3.7zM253.8 29.3h3.7v3.7h-3.7zM253.8 285.7h3.7v3.7h-3.7zM253.8 29.3h3.7v3.7h-3.7zM253.8 285.8h3.7v3.7h-3.7zM253.9 29.2h3.7v3.7h-3.7zM253.9 285.8h3.7v3.7h-3.7zM254.0 29.2h3.7v3.7h-3.7zM254.0 285.9h3.7v3.7h-3.7zM254.1 29.1h3.7v3.7h-3.7zM254.1 286.0h3.7v3.7h-3.7zM254.2 29.0h3.7v3.7h-3.7zM254.2 286.0h3.7v3.7h-3.7zM254.2 29.0h3.7v3.7h-3.7zM254.2 286.1h3.7v3.7h-3.7zM254.3 28.9h3.7v3.7h-3.7zM254.3 286.2h3.7v3.7h-3.7zM254.4 28.8h3.7v3.7h-3.7zM254.4 286.2h3.7v3.7h-3.7zM254.5 28.8h3.7v3.7h-3.7zM254.5 286.3h3.7v3.7h-3.7zM254.6 28.7h3.7v3.7h-3.7zM254.6 286.4h3.7v3.7h-3.7zM254.6 28.7h3.7v3.7h-3.7zM254.6 286.4h3.7v3.7h-3.7zM254.7 28.6h3.7v3.7h-3.7zM254.7 286.5h3.7v3.7h-3.7zM254.8 28.5h3.7v3.7h-3.7zM254.8 286.6h3.7v3.7h-3.7zM254.9 28.5h3.7v3.7h-3.7zM254.9 286.6h3.7v3.7h-3.7zM255.0 28.4h3.7v3.7h-3.7zM255.0 286.7h3.7v3.7h-3.7zM255.0 28.4h3.7v3.7h-3.7zM255.0 286.8h3.7v3.7h-3.7zM255.1 28.3h3.7v3.7h-3.7zM255.1 286.8h3.7v3.7h-3.7zM255.2 28.2h3.7v3.7h-3.7zM255.2 286.9h3.7v3.7h-3.7zM255.3 28.2h3.7v3.7h-3.7zM255.3 287.0h3.7v3.7h-3.7zM255.3 28.1h3.7v3.7h-3.7zM255.3 287.0h3.7v3.7h-3.7zM255.4 28.1h3.7v3.7h-3.7zM255.4 287.1h3.7v3.7h-3.7zM255.5 28.0h3.7v3.7h-3.7zM255.5 287.2h3.7v3.7h-3.7zM255.6 27.9h3.7v3.7h-3.7zM255.6 287.2h3.7v3.7h-3.7zM255.6 27.9h3.7v3.7h-3.7zM255.6 287.3h3.7v3.7h-3.7zM255.7 27.8h3.7v3.7h-3.7zM255.7 287.4h3.7v3.7h-3.7zM255.8 27.8h3.7v3.7h-3.7zM255.8 287.4h3.7v3.7h-3.7zM255.9 27.7h3.7v3.7h-3.7zM255.9 287.5h3.7v3.7h-3.7zM255.9 27.7h3.7v3.7h-3.7zM255.9 287.5h3.7v3.7h-3.7zM256.0 27.6h3.7v3.7h-3.7zM256.0 287.6h3.7v3.7h-3.7zM256.1 27.5h3.7v3.7h-3.7zM256.1 287.7h3.7v3.7h-3.7zM256.2 27.5h3.7v3.7h-3.7zM256.2 287.7h3.7v3.7h-3.7zM256.2 27.4h3.7v3.7h-3.7zM256.2 287.8h3.7v3.7h-3.7zM256.3 27.4h3.7v3.7h-3.7zM256.3 287.9h3.7v3.7h-3.7zM256.4 27.3h3.7v3.7h-3.7zM256.4 287.9h3.7v3.7h-3.7zM256.5 27.3h3.7v3.7h-3.7zM256.5 288.0h3.7v3.7h-3.7zM256.5 27.2h3.7v3.7h-3.7zM256.5 288.1h3.7v3.7h-3.7zM256.6 27.1h3.7v3.7h-3.7zM256.6 288.1h3.7v3.7h-3.7zM256.7 27.1h3.7v3.7h-3.7zM256.7 288.2h3.7v3.7h-3.7zM256.8 27.0h3.7v3.7h-3.7zM256.8 288.2h3.7v3.7h-3.7zM256.8 27.0h3.7v3.7h-3.7zM256.8 288.3h3.7v3.7h-3.7zM256.9 26.9h3.7v3.7h-3.7zM256.9 288.4h3.7v3.7h-3.7zM257.0 26.9h3.7v3.7h-3.7zM257.0 288.4h3.7v3.7h-3.7zM257.1 26.8h3.7v3.7h-3.7zM257.1 288.5h3.7v3.7h-3.7zM257.1 26.8h3.7v3.7h-3.7zM257.1 288.6h3.7v3.7h-3.7zM257.2 26.7h3.7v3.7h-3.7zM257.2 288.6h3.7v3.7h-3.7zM257.3 26.7h3.7v3.7h-3.7zM257.3 288.7h3.7v3.7h-3.7zM257.3 26.6h3.7v3.7h-3.7zM257.3 288.7h3.7v3.7h-3.7zM257.4 26.5h3.7v3.7h-3.7zM257.4 288.8h3.7v3.7h-3.7zM257.5 26.5h3.7v3.7h-3.7zM257.5 288.9h3.7v3.7h-3.7zM257.6 26.4h3.7v3.7h-3.7zM257.6 288.9h3.7v3.7h-3.7zM257.6 26.4h3.7v3.7h-3.7zM257.6 289.0h3.7v3.7h-3.7zM257.7 26.3h3.7v3.7h-3.7zM257.7 289.0h3.7v3.7h-3.7zM257.8 26.3h3.7v3.7h-3.7zM257.8 289.1h3.7v3.7h-3.7zM257.8 26.2h3.7v3.7h-3.7zM257.8 289.2h3.7v3.7h-3.7zM257.9 26.2h3.7v3.7h-3.7zM257.9 289.2h3.7v3.7h-3.7zM258.0 26.1h3.7v3.7h-3.7zM258.0 289.3h3.7v3.7h-3.7zM258.1 26.1h3.7v3.7h-3.7zM258.1 289.3h3.7v3.7h-3.7zM258.1 26.0h3.7v3.7h-3.7zM258.1 289.4h3.7v3.7h-3.7zM258.2 26.0h3.7v3.7h-3.7zM258.2 289.5h3.7v3.7h-3.7zM258.3 25.9h3.7v3.7h-3.7zM258.3 289.5h3.7v3.7h-3.7zM258.3 25.9h3.7v3.7h-3.7zM258.3 289.6h3.7v3.7h-3.7zM258.4 25.8h3.7v3.7h-3.7zM258.4 289.6h3.7v3.7h-3.7zM258.5 25.8h3.7v3.7h-3.7zM258.5 289.7h3.7v3.7h-3.7zM258.5 25.7h3.7v3.7h-3.7zM258.5 289.8h3.7v3.7h-3.7zM258.6 25.7h3.7v3.7h-3.7zM258.6 289.8h3.7v3.7h-3.7zM258.7 25.6h3.7v3.7h-3.7zM258.7 289.9h3.7v3.7h-3.7zM258.8 25.6h3.7v3.7h-3.7zM258.8 289.9h3.7v3.7h-3.7zM258.8 25.5h3.7v3.7h-3.7zM258.8 290.0h3.7v3.7h-3.7zM258.9 25.5h3.7v3.7h-3.7zM258.9 290.1h3.7v3.7h-3.7zM259.0 25.4h3.7v3.7h-3.7zM259.0 290.1h3.7v3.7h-3.7zM259.0 25.4h3.7v3.7h-3.7zM259.0 290.2h3.7v3.7h-3.7zM259.1 25.3h3.7v3.7h-3.7zM259.1 290.2h3.7v3.7h-3.7zM259.2 25.3h3.7v3.7h-3.7zM259.2 290.3h3.7v3.7h-3.7zM259.2 25.2h3.7v3.7h-3.7zM259.2 290.4h3.7v3.7h-3.7zM259.3 25.2h3.7v3.7h-3.7zM259.3 290.4h3.7v3.7h-3.7zM259.4 25.1h3.7v3.7h-3.7zM259.4 290.5h3.7v3.7h-3.7zM259.4 25.1h3.7v3.7h-3.7zM259.4 290.5h3.7v3.7h-3.7zM259.5 25.0h3.7v3.7h-3.7zM259.5 290.6h3.7v3.7h-3.7zM259.6 25.0h3.7v3.7h-3.7zM259.6 290.6h3.7v3.7h-3.7zM259.6 25.0h3.7v3.7h-3.7zM259.6 290.7h3.7v3.7h-3.7zM259.7 24.9h3.7v3.7h-3.7zM259.7 290.8h3.7v3.7h-3.7zM259.8 24.9h3.7v3.7h-3.7zM259.8 290.8h3.7v3.7h-3.7zM259.8 24.8h3.7v3.7h-3.7zM259.8 290.9h3.7v3.7h-3.7zM259.9 24.8h3.7v3.7h-3.7zM259.9 290.9h3.7v3.7h-3.7zM260.0 24.7h3.7v3.7h-3.7zM260.0 291.0h3.7v3.7h-3.7zM260.0 24.7h3.7v3.7h-3.7zM260.0 291.0h3.7v3.7h-3.7zM260.1 24.6h3.7v3.7h-3.7zM260.1 291.1h3.7v3.7h-3.7zM260.2 24.6h3.7v3.7h-3.7zM260.2 291.2h3.7v3.7h-3.7zM260.2 24.5h3.7v3.7h-3.7zM260.2 291.2h3.7v3.7h-3.7zM260.3 24.5h3.7v3.7h-3.7zM260.3 291.3h3.7v3.7h-3.7zM260.4 24.4h3.7v3.7h-3.7zM260.4 291.3h3.7v3.7h-3.7zM260.4 24.4h3.7v3.7h-3.7zM260.4 291.4h3.7v3.7h-3.7zM260.5 24.4h3.7v3.7h-3.7zM260.5 291.4h3.7v3.7h-3.7zM260.6 24.3h3.7v3.7h-3.7zM260.6 291.5h3.7v3.7h-3.7zM260.6 24.3h3.7v3.7h-3.7zM260.6 291.6h3.7v3.7h-3.7zM260.7 24.2h3.7v3.7h-3.7zM260.7 291.6h3.7v3.7h-3.7zM260.7 24.2h3.7v3.7h-3.7zM260.7 291.7h3.7v3.7h-3.7zM260.8 24.1h3.7v3.7h-3.7zM260.8 291.7h3.7v3.7h-3.7zM260.9 24.1h3.7v3.7h-3.7zM260.9 291.8h3.7v3.7h-3.7zM260.9 24.0h3.7v3.7h-3.7zM260.9 291.8h3.7v3.7h-3.7zM261.0 24.0h3.7v3.7h-3.7zM261.0 291.9h3.7v3.7h-3.7zM261.1 24.0h3.7v3.7h-3.7zM261.1 291.9h3.7v3.7h-3.7zM261.1 23.9h3.7v3.7h-3.7zM261.1 292.0h3.7v3.7h-3.7zM261.2 23.9h3.7v3.7h-3.7zM261.2 292.1h3.7v3.7h-3.7zM261.3 23.8h3.7v3.7h-3.7zM261.3 292.1h3.7v3.7h-3.7zM261.3 23.8h3.7v3.7h-3.7zM261.3 292.2h3.7v3.7h-3.7zM261.4 23.7h3.7v3.7h-3.7zM261.4 292.2h3.7v3.7h-3.7zM261.4 23.7h3.7v3.7h-3.7zM261.4 292.3h3.7v3.7h-3.7zM261.5 23.6h3.7v3.7h-3.7zM261.5 292.3h3.7v3.7h-3.7zM261.6 23.6h3.7v3.7h-3.7zM261.6 292.4h3.7v3.7h-3.7zM261.6 23.6h3.7v3.7h-3.7zM261.6 292.4h3.7v3.7h-3.7zM261.7 23.5h3.7v3.7h-3.7zM261.7 292.5h3.7v3.7h-3.7zM261.8 23.5h3.7v3.7h-3.7zM261.8 292.5h3.7v3.7h-3.7zM261.8 23.4h3.7v3.7h-3.7zM261.8 292.6h3.7v3.7h-3.7zM261.9 23.4h3.7v3.7h-3.7zM261.9 292.7h3.7v3.7h-3.7zM261.9 23.4h3.7v3.7h-3.7zM261.9 292.7h3.7v3.7h-3.7zM262.0 23.3h3.7v3.7h-3.7zM262.0 292.8h3.7v3.7h-3.7zM262.1 23.3h3.7v3.7h-3.7zM262.1 292.8h3.7v3.7h-3.7zM262.1 23.2h3.7v3.7h-3.7zM262.1 292.9h3.7v3.7h-3.7zM262.2 23.2h3.7v3.7h-3.7zM262.2 292.9h3.7v3.7h-3.7zM262.3 23.1h3.7v3.7h-3.7zM262.3 293.0h3.7v3.7h-3.7zM262.3 23.1h3.7v3.7h-3.7zM262.3 293.0h3.7v3.7h-3.7zM262.4 23.1h3.7v3.7h-3.7zM262.4 293.1h3.7v3.7h-3.7zM262.4 23.0h3.7v3.7h-3.7zM262.4 293.1h3.7v3.7h-3.7zM262.5 23.0h3.7v3.7h-3.7zM262.5 293.2h3.7v3.7h-3.7zM262.6 22.9h3.7v3.7h-3.7zM262.6 293.2h3.7v3.7h-3.7zM262.6 22.9h3.7v3.7h-3.7zM262.6 293.3h3.7v3.7h-3.7zM262.7 22.9h3.7v3.7h-3.7zM262.7 293.3h3.7v3.7h-3.7zM262.7 22.8h3.7v3.7h-3.7zM262.7 293.4h3.7v3.7h-3.7zM262.8 22.8h3.7v3.7h-3.7zM262.8 293.4h3.7v3.7h-3.7zM262.9 22.7h3.7v3.7h-3.7zM262.9 293.5h3.7v3.7h-3.7zM262.9 22.7h3.7v3.7h-3.7zM262.9 293.6h3.7v3.7h-3.7zM263.0 22.7h3.7v3.7h-3.7zM263.0 293.6h3.7v3.7h-3.7zM263.0 22.6h3.7v3.7h-3.7zM263.0 293.7h3.7v3.7h-3.7zM263.1 22.6h3.7v3.7h-3.7zM263.1 293.7h3.7v3.7h-3.7zM263.2 22.5h3.7v3.7h-3.7zM263.2 293.8h3.7v3.7h-3.7zM263.2 22.5h3.7v3.7h-3.7zM263.2 293.8h3.7v3.7h-3.7zM263.3 22.5h3.7v3.7h-3.7zM263.3 293.9h3.7v3.7h-3.7zM263.3 22.4h3.7v3.7h-3.7zM263.3 293.9h3.7v3.7h-3.7zM263.4 22.4h3.7v3.7h-3.7zM263.4 294.0h3.7v3.7h-3.7zM263.5 22.4h3.7v3.7h-3.7zM263.5 294.0h3.7v3.7h-3.7zM263.5 22.3h3.7v3.7h-3.7zM263.5 294.1h3.7v3.7h-3.7zM263.6 22.3h3.7v3.7h-3.7zM263.6 294.1h3.7v3.7h-3.7zM263.6 22.2h3.7v3.7h-3.7zM263.6 294.2h3.7v3.7h-3.7zM263.7 22.2h3.7v3.7h-3.7zM263.7 294.2h3.7v3.7h-3.7zM263.8 22.2h3.7v3.7h-3.7zM263.8 294.3h3.7v3.7h-3.7z" fill="#000"/>
<g font-family='"Liberation Sans", sans-serif' font-weight="bold" font-size="9.9" fill="#000" stroke="#000" stroke-width="0.3">
<text x="45" y="181.0" text-anchor="end">0.0</text>
<text x="45" y="153.9" text-anchor="end">0.2</text>
<text x="45" y="126.8" text-anchor="end">0.4</text>
<text x="45" y="99.7" text-anchor="end">0.6</text>
<text x="45" y="72.6" text-anchor="end">0.8</text>
<text x="45" y="45.5" text-anchor="end">1.0</text>
<text x="45" y="18.4" text-anchor="end">1.2</text>
<text x="45" y="203.6" text-anchor="end">1000</text>
<text x="45" y="280.3" text-anchor="end">100</text>
<text x="45" y="357.0" text-anchor="end">10</text>
<text x="42.6" y="368.2" font-size="10">10<tspan dy="-5.4" font-size="7">6</tspan></text>
<text x="114.0" y="368.2" font-size="10">10<tspan dy="-5.4" font-size="7">7</tspan></text>
<text x="185.4" y="368.2" font-size="10">10<tspan dy="-5.4" font-size="7">8</tspan></text>
<text x="256.8" y="368.2" font-size="10">10<tspan dy="-5.4" font-size="7">9</tspan></text>
</g>
<g font-family='"Liberation Sans", sans-serif' font-weight="bold" fill="#000">
<text x="138.4" y="390.2" font-size="12.8">J [A/m<tspan dy="-7.2" font-size="8.4">2</tspan><tspan dy="7.2">]</tspan></text>
<text transform="translate(13.9,112) rotate(-90)" font-size="12.8">U [V]</text>
<text transform="translate(13.6,290.9) rotate(-90)" font-size="12.6">R [<tspan font-weight="normal">&#937;</tspan>]</text>
<text x="0.8" y="22.6" font-size="22" textLength="24.6" lengthAdjust="spacingAndGlyphs">(a)</text>
<text x="304.4" y="22.4" font-size="22" textLength="27.6" lengthAdjust="spacingAndGlyphs">(b)</text>
<text x="304.4" y="197" font-size="22" textLength="24.4" lengthAdjust="spacingAndGlyphs">(c)</text>
</g>
<rect x="55.2" y="266.1" width="25" height="78.2" fill="#fff" stroke="#000" stroke-width="2"/>
<text transform="translate(73.2,338.3) rotate(-90)" font-family='"Liberation Sans", sans-serif' font-size="12.5" textLength="65.5" lengthAdjust="spacingAndGlyphs">measuring</text>
<rect x="258.4" y="187.8" width="24.6" height="82.6" fill="#fff" stroke="#000" stroke-width="2"/>
<text transform="translate(275.6,264.2) rotate(-90)" font-family='"Liberation Sans", sans-serif' font-size="12.5" textLength="59" lengthAdjust="spacingAndGlyphs">switching</text>
<g stroke="#000" fill="none">
<rect x="343.7" y="2.6" width="216.3" height="173.6" stroke-width="2.9" stroke-linejoin="round"/>
<rect x="427.2" y="7.2" width="103.6" height="34.4" stroke-width="2.3" fill="#fff"/>
<rect x="348.7" y="45.3" width="74.8" height="45.9" stroke-width="2.3" fill="#fff"/>
<g stroke-width="2.2">
<path d="M462.4 41.7V108M479.6 41.7V152M462.4 94.3H489M479.6 102.4H489"/>
<path d="M423.8 58.7H432.9L446 49M449.2 58.7H462.4M423.8 72.3H433.3M439 81.4L450 72.3H479.3"/>
</g>
<ellipse cx="522.1" cy="98.2" rx="34.3" ry="27.1" stroke-width="2.4" fill="#fff"/>
<rect x="474.3" y="47.4" width="10.6" height="18.2" fill="#4f81bd" stroke="#1a1a1a" stroke-width="1.7"/>
</g>
<circle cx="462.4" cy="58.7" r="3.9" fill="#000"/>
<circle cx="479.6" cy="72.3" r="3.9" fill="#000"/>
<circle cx="462.4" cy="94.3" r="3.9" fill="#000"/>
<circle cx="479.6" cy="102.4" r="3.9" fill="#000"/>
<path d="M433.9 100.3H453.8" stroke="#000" stroke-width="5.2" fill="none"/>
<path d="M443.9 90.6V110.2" stroke="#000" stroke-width="4.6" fill="none"/>
<rect x="487" y="142.7" width="10.9" height="4.6" fill="#000"/>
<path d="M357 135.6V108.2Q368 111.5 378 119.9H411.3C416 117.4 419 115.2 421.9 113.6C428 110 434 107.6 441.9 106.5C450 105.6 458 105.4 469.4 105.3V135.6Z" fill="#0f72c4"/>
<path d="M357 135.6V121.9Q367.4 126.1 373.6 135.6Z" fill="#a8a8a8"/>
<path d="M417.6 135.6C419.5 133 421 130 424 127.6C428 124 431 122.4 435.2 120.6C441 118.6 448 117.3 455.2 116.6C460 116.3 465 116.2 469.4 116.2V135.6Z" fill="#a8a8a8"/>
<rect x="357" y="135.3" width="112.6" height="16.5" fill="#fe0000"/>
<rect x="357" y="151.5" width="179.3" height="20.4" fill="#0f72c4"/>
<g font-family='"Liberation Sans", sans-serif' font-weight="bold" fill="#fff" stroke="#fff" stroke-width="0.2">
<text x="384.4" y="133.8" font-size="14.6" textLength="18.8" lengthAdjust="spacingAndGlyphs">TE</text>
<text x="387.2" y="149" font-size="15.2" textLength="43.2" lengthAdjust="spacingAndGlyphs">PCMO</text>
<text x="365.6" y="167.9" font-size="17" textLength="151.4" lengthAdjust="spacingAndGlyphs">bottom electrode - Pt</text>
</g>
<g font-family='"Liberation Sans", sans-serif' font-weight="bold" fill="#000" stroke="#000" stroke-width="0.2">
<text x="434.6" y="20.4" font-size="13.6" textLength="87.4" lengthAdjust="spacingAndGlyphs">pulse generator</text>
<text x="432" y="33.4" font-size="9.8" font-style="italic" textLength="93.4" lengthAdjust="spacingAndGlyphs">(excitation pulse U<tspan dy="2.2" font-size="6.6">app</tspan><tspan dy="-2.2">)</tspan></text>
<text x="354.4" y="65.2" font-size="13.6" textLength="63.6" lengthAdjust="spacingAndGlyphs">multimeter</text>
<text x="361.8" y="78.2" font-size="9.8" font-style="italic" textLength="49.2" lengthAdjust="spacingAndGlyphs">(resistance)</text>
<text x="491.4" y="103.3" font-size="11.4" textLength="60.2" lengthAdjust="spacingAndGlyphs">oscilloscope</text>
</g>
<text x="490" y="57.2" font-family='"Liberation Sans", sans-serif' font-style="italic" font-size="12.2" fill="#111" stroke="#111" stroke-width="0.15" textLength="63.4" lengthAdjust="spacingAndGlyphs">R<tspan dy="2.4" font-size="7.8">generator</tspan><tspan dy="-2.4"> 50&#937;</tspan></text>
<g stroke="#000" stroke-width="1.8" fill="none">
<path d="M561.7 185.0H347.8V353.2H561.7"/>
<path d="M347.70 185.0v3.8M347.70 353.2v-3.8M372.00 185.0v2.4M372.00 353.2v-2.4M396.30 185.0v3.8M396.30 353.2v-3.8M420.60 185.0v2.4M420.60 353.2v-2.4M444.90 185.0v3.8M444.90 353.2v-3.8M469.20 185.0v2.4M469.20 353.2v-2.4M493.50 185.0v3.8M493.50 353.2v-3.8M517.80 185.0v2.4M517.80 353.2v-2.4M542.10 185.0v3.8M542.10 353.2v-3.8M347.8 353.10h3.8M347.8 339.28h2.4M347.8 325.47h3.8M347.8 311.65h2.4M347.8 297.83h3.8M347.8 284.01h2.4M347.8 270.20h3.8M347.8 256.38h2.4M347.8 242.56h3.8M347.8 228.74h2.4M347.8 214.93h3.8M347.8 201.11h2.4M347.8 187.29h3.8" stroke-width="1.3"/>
</g>
<g stroke="#fe0000" stroke-width="1.8" fill="none">
<line x1="561.7" y1="184.4" x2="561.7" y2="353.8"/>
<path d="M561.7 352.80h-3.8M561.7 342.30h-2.4M561.7 331.80h-3.8M561.7 321.30h-2.4M561.7 310.80h-3.8M561.7 300.30h-2.4M561.7 289.80h-3.8M561.7 279.30h-2.4M561.7 268.80h-3.8M561.7 258.30h-2.4M561.7 247.80h-3.8M561.7 237.30h-2.4M561.7 226.80h-3.8M561.7 216.30h-2.4M561.7 205.80h-3.8M561.7 195.30h-2.4M561.7 184.80h-3.8" stroke-width="1.3"/>
</g>
<line x1="347.7" y1="353.1" x2="518.4" y2="188.7" stroke="#00f200" stroke-width="2.2" stroke-dasharray="7 4.7" stroke-dashoffset="3.2"/>
<path d="M386.3 344.7L396.0 341.4L405.7 336.8L415.6 329.3L425.2 321.4L434.9 313.5L444.6 304.1L454.5 294.7L464.2 286.0L473.8 276.8L483.7 267.9L493.4 257.2L503.1 247.3L513.0 235.6L522.6 230.5L532.3 221.4L542.2 208.4" stroke="#000" stroke-width="1.1" fill="none"/>
<path d="M383.7 342.1h5.3v5.3h-5.3zM393.4 338.8h5.3v5.3h-5.3zM403.1 334.2h5.3v5.3h-5.3zM413.0 326.7h5.3v5.3h-5.3zM422.6 318.8h5.3v5.3h-5.3zM432.2 310.9h5.3v5.3h-5.3zM442.0 301.5h5.3v5.3h-5.3zM451.9 292.1h5.3v5.3h-5.3zM461.6 283.4h5.3v5.3h-5.3zM471.2 274.2h5.3v5.3h-5.3zM481.1 265.2h5.3v5.3h-5.3zM490.8 254.5h5.3v5.3h-5.3zM500.5 244.7h5.3v5.3h-5.3zM510.4 232.9h5.3v5.3h-5.3zM520.0 227.8h5.3v5.3h-5.3zM529.6 218.8h5.3v5.3h-5.3zM539.6 205.8h5.3v5.3h-5.3z" fill="#000"/>
<path d="M386.3 284.8L396.0 269.2L405.9 258.0L415.5 250.4L425.2 244.3L435.1 237.7L444.9 233.8L454.6 231.3L464.4 226.2L474.1 222.4L483.7 217.9L493.4 217.3L503.1 213.5L513.0 215.8L522.6 204.7L532.3 200.6L542.2 204.7" stroke="#fe0000" stroke-width="1.1" fill="none"/>
<path d="M383.7 282.2h5.3v5.3h-5.3zM393.4 266.6h5.3v5.3h-5.3zM403.2 255.3h5.3v5.3h-5.3zM412.9 247.8h5.3v5.3h-5.3zM422.6 241.7h5.3v5.3h-5.3zM432.5 235.0h5.3v5.3h-5.3zM442.2 231.2h5.3v5.3h-5.3zM452.0 228.7h5.3v5.3h-5.3zM461.8 223.5h5.3v5.3h-5.3zM471.5 219.8h5.3v5.3h-5.3zM481.1 215.2h5.3v5.3h-5.3zM490.8 214.7h5.3v5.3h-5.3zM500.5 210.8h5.3v5.3h-5.3zM510.4 213.2h5.3v5.3h-5.3zM520.0 202.0h5.3v5.3h-5.3zM529.6 197.9h5.3v5.3h-5.3zM539.6 202.0h5.3v5.3h-5.3z" fill="#fe0000"/>
<g font-family='"Liberation Sans", sans-serif' font-weight="bold" font-size="9.3" fill="#000" stroke="#000" stroke-width="0.3">
<text x="344.2" y="356.5" text-anchor="end">0.0</text>
<text x="344.2" y="328.9" text-anchor="end">0.5</text>
<text x="344.2" y="301.2" text-anchor="end">1.0</text>
<text x="344.2" y="273.6" text-anchor="end">1.5</text>
<text x="344.2" y="246.0" text-anchor="end">2.0</text>
<text x="344.2" y="218.3" text-anchor="end">2.5</text>
<text x="344.2" y="190.7" text-anchor="end">3.0</text>
<text x="347.7" y="364.4" text-anchor="middle">0.0</text>
<text x="396.3" y="364.4" text-anchor="middle">0.5</text>
<text x="444.9" y="364.4" text-anchor="middle">1.0</text>
<text x="493.5" y="364.4" text-anchor="middle">1.5</text>
<text x="542.1" y="364.4" text-anchor="middle">2.0</text>
</g>
<g font-family='"Liberation Sans", sans-serif' font-weight="bold" font-size="9.3" fill="#fe0000" stroke="#fe0000" stroke-width="0.3">
<text x="565.3" y="355.8">0.0</text>
<text x="565.3" y="334.8">0.2</text>
<text x="565.3" y="313.8">0.4</text>
<text x="565.3" y="292.8">0.6</text>
<text x="565.3" y="271.8">0.8</text>
<text x="565.3" y="250.8">1.0</text>
<text x="565.3" y="229.8">1.2</text>
<text x="565.3" y="208.8">1.4</text>
<text x="565.3" y="187.8">1.6</text>
</g>
<g font-family='"Liberation Sans", sans-serif' font-weight="bold">
<text transform="translate(597.7,292.4) rotate(-90)" font-size="14" textLength="28.8" lengthAdjust="spacingAndGlyphs" fill="#fe0000">U [V]</text>
<text transform="translate(323.5,314.8) rotate(-90)" font-size="15.2" textLength="70.4" lengthAdjust="spacingAndGlyphs" fill="#000">J [10<tspan dy="-7.4" font-size="9.6">9</tspan><tspan dy="7.4"> A/m</tspan><tspan dy="-7.4" font-size="9.6">2</tspan><tspan dy="7.4">]</tspan></text>
<text x="434.7" y="383.2" font-size="13.2" textLength="39.6" lengthAdjust="spacingAndGlyphs" fill="#000">U<tspan dy="4.6" font-size="8.2">app</tspan><tspan dy="-4.6"> [V]</tspan></text>
<path d="M395.75 234.8V243.9a4.05 4.1 0 0 0 8.1 0V234.8" stroke="#fe0000" stroke-width="2.8" fill="none"/>
<path d="M467.7 297V306.8a3.15 3.4 0 0 1 -6.3 0V305.4" stroke="#000" stroke-width="2.8" fill="none"/>
<text x="353.9" y="310.8" font-size="16.8" fill="#00f200">I<tspan dy="4.8" font-size="9">30<tspan font-weight="normal" font-size="8"> &#937;</tspan></tspan></text>
</g>
</svg>
</body></html>
